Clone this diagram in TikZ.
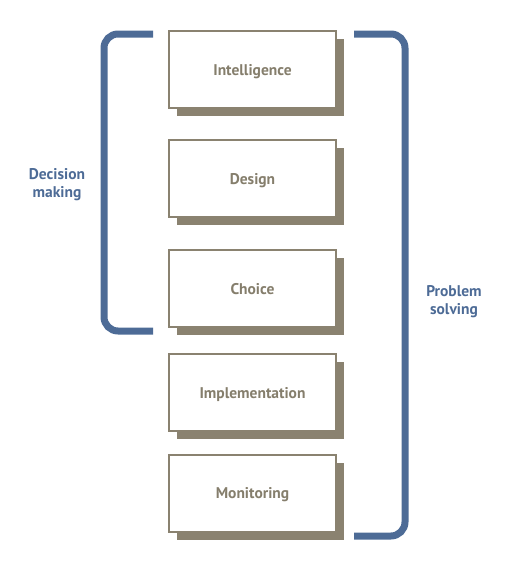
\documentclass[tikz,border=0pt]{standalone}
\usepackage{fontspec}
\setmainfont{PT Sans}
\usetikzlibrary{shadows}

\definecolor{boxgray}{HTML}{8A8270}
\definecolor{textgray}{HTML}{857E6C}
\definecolor{bracketblue}{HTML}{4D6B96}

\tikzset{
	phasebox/.style={draw=boxgray, line width=2pt, fill=white,
		minimum width=167pt, minimum height=77pt, inner sep=0pt, text depth=0pt,
		font=\bfseries\fontsize{15.5}{18}\selectfont, text=textgray,
		drop shadow={shadow xshift=8pt, shadow yshift=-8pt, fill=boxgray, opacity=1}},
	bracket/.style={draw=bracketblue, line width=7pt, rounded corners=14pt},
	sidelabel/.style={align=center, text=bracketblue,
		font=\bfseries\fontsize{15.5}{18}\selectfont}
}

\begin{document}
\begin{tikzpicture}[x=1pt,y=-1pt]
	% cadre de l'image (pixels)
	\useasboundingbox (0,0) rectangle (514,568);

	% les cinq phases
	\foreach \name/\y/\txt in {intel/69.5/Intelligence, design/178.5/Design,
		choice/288.5/Choice, impl/392.5/Implementation, monitor/493/Monitoring}{%
		\node[phasebox] (\name) at (252.5,\y) {\txt};
	}

	% accolade gauche : prise de décision
	\draw[bracket] (153,34) -| (104,331) -- (153,331);
	\node[sidelabel] (decision) at (57,185) {Decision\\making};

	% accolade droite : résolution de problème
	\draw[bracket] (354,34) -| (405,536) -- (354,536);
	\node[sidelabel] (problem) at (454,302) {Problem\\solving};
\end{tikzpicture}
\end{document}
